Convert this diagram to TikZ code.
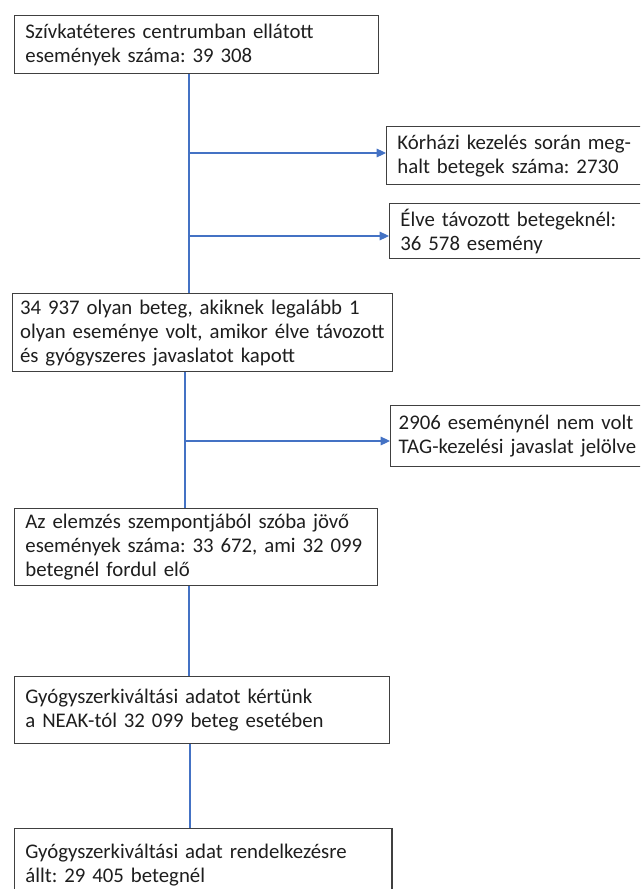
\documentclass[tikz,border=0pt]{standalone}
\usepackage{fontspec}
\setmainfont{Carlito}
\usepackage{tikz}
\usetikzlibrary{arrows.meta, positioning}
\definecolor{boxgray}{HTML}{404040}
\definecolor{linkblue}{HTML}{4472C4}
\definecolor{textdark}{HTML}{1E1E1E}
\frenchspacing
\hyphenpenalty=10000

\begin{document}
\begin{tikzpicture}[x=0.75pt, y=-0.75pt]
    \tikzstyle{box}=[draw=boxgray, line width=1.1pt, anchor=north west, align=left, inner xsep=8pt, inner ysep=0pt, text=textdark, font=\fontsize{15.6}{18}\selectfont];
    \tikzstyle{link}=[draw=linkblue, line width=0.8pt];
    \tikzstyle{branch}=[link, -{Triangle[length=7pt, width=6.5pt]}];

    \useasboundingbox (0,0) rectangle (640,889);
    \clip (0,0) rectangle (640,889);

    % main column
    \node[box, text width=257pt, minimum height=43.5pt] (events) at (14,15)
        {Szívkatéteres centrumban ellátott\\események száma: 39 308};
    \node[box, inner xsep=5.5pt, text width=274pt, minimum height=58.5pt] (patients) at (12,293)
        {34 937 olyan beteg, akiknek legalább 1\\olyan eseménye volt, amikor élve távozott\\és gyógyszeres javaslatot kapott};
    \node[box, text width=256pt, minimum height=57.75pt] (relevant) at (14,508)
        {Az elemzés szempontjából szóba jövő\\események száma: 33 672, ami 32 099\\betegnél fordul elő};
    \node[box, text width=265pt, minimum height=50.25pt] (request) at (14,676)
        {Gyógyszerkiváltási adatot kértünk\\a NEAK-tól 32 099 beteg esetében};
    \node[box, text width=267pt, minimum height=54pt] (available) at (14,828)
        {Gyógyszerkiváltási adat rendelkezésre\\állt: 29 405 betegnél};

    % side boxes
    \node[box, text width=209pt, minimum height=43.5pt] (died) at (386,126)
        {Kórházi kezelés során meg-\\halt betegek száma: 2730};
    \node[box, text width=209pt, minimum height=41.25pt] (alive) at (389,203)
        {Élve távozott betegeknél:\\36 578 esemény};
    \node[box, inner xsep=6pt, text width=209pt, minimum height=45.75pt] (notag) at (390,405)
        {2906 eseménynél nem volt\\TAG-kezelési javaslat jelölve};

    % connectors
    \coordinate (spineA) at (189,0);
    \coordinate (spineB) at (185,0);
    \coordinate (spineC) at (190,0);
    \coordinate (forkA) at (189,153);
    \coordinate (forkB) at (189,236);
    \coordinate (forkC) at (185,441);

    \draw[link] (events.south -| spineA) -- (patients.north -| spineA);
    \draw[branch] (forkA) -- (forkA -| died.west);
    \draw[branch] (forkB) -- (forkB -| alive.west);
    \draw[link] (patients.south -| spineB) -- (relevant.north -| spineB);
    \draw[branch] (forkC) -- (forkC -| notag.west);
    \draw[link] (relevant.south -| spineA) -- (request.north -| spineA);
    \draw[link] (request.south -| spineC) -- (available.north -| spineC);
\end{tikzpicture}
\end{document}
